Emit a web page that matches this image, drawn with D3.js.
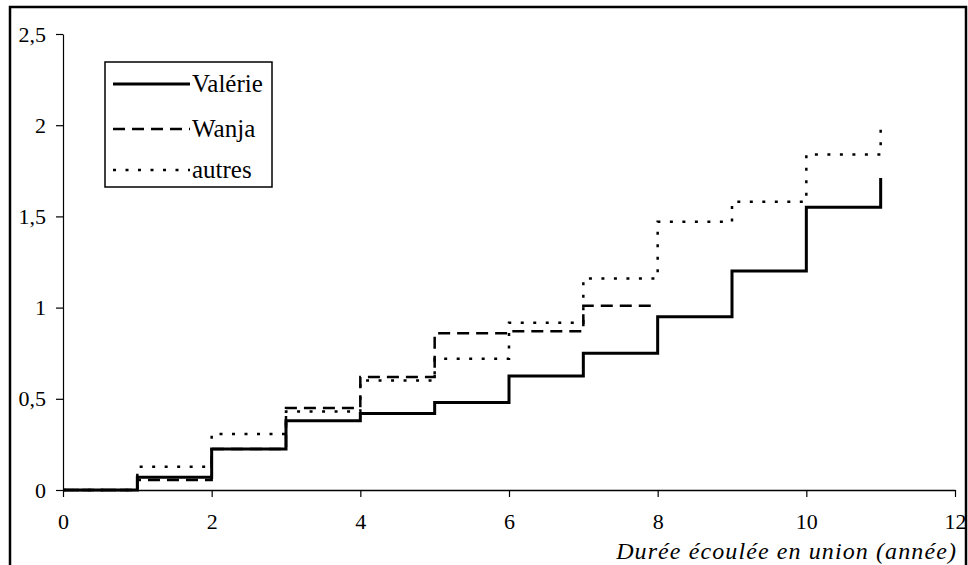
<!DOCTYPE html>
<html>
<head>
<meta charset="utf-8">
<script src="https://cdn.jsdelivr.net/npm/d3@7"></script>
<style>
  body { margin: 0; background: #fff; }
  svg { display: block; }
  svg text { font-family: "Liberation Serif", "DejaVu Serif", "Times New Roman", serif; fill: #000; }
</style>
</head>
<body>
<svg id="chart"></svg>
<script>
// years (step starts) and cumulative values
const years = [0, 1, 2, 3, 4, 5, 6, 7, 8, 9, 10, 11];
const valerie = [0, 0.07, 0.225, 0.38, 0.42, 0.48, 0.625, 0.75, 0.95, 1.20, 1.55, 1.71];
const wanja = [0, 0.055, 0.225, 0.45, 0.62, 0.86, 0.87, 1.01, 1.01];
const autres = [0, 0.128, 0.307, 0.43, 0.60, 0.72, 0.917, 1.16, 1.47, 1.58, 1.84, 1.98];

const seriesNames = ["Valérie", "Wanja", "autres"];
const seriesValues = [valerie, wanja, autres];
const seriesDash = [null, "12,7", "3,9.5"];
const seriesWidth = [3, 2.5, 2.5];

const xTicks = [0, 2, 4, 6, 8, 10, 12];
const yTicks = [0, 0.5, 1, 1.5, 2, 2.5];
const xTitle = "Durée écoulée en union (année)";

const svgWidth = 968, svgHeight = 565;
const serif = '"Liberation Serif", "DejaVu Serif", "Times New Roman", serif';

const svg = d3.select("#chart")
  .attr("width", svgWidth)
  .attr("height", svgHeight);

// frame around the picture
svg.append("path")
  .attr("d", "M10,565 L10,7 L966,7 L966,565")
  .attr("fill", "none")
  .attr("stroke", "#000")
  .attr("stroke-width", 2.5);

const x = d3.scaleLinear().domain([0, 12]).range([63, 955]);
const y = d3.scaleLinear().domain([0, 2.5]).range([490, 34]);

const locale = d3.formatLocale({ decimal: ",", thousands: " ", grouping: [3], currency: ["", " €"] });
const fmt = locale.format("~g");

// x axis
const gx = svg.append("g")
  .attr("transform", "translate(0," + y(0) + ")")
  .call(d3.axisBottom(x).tickValues(xTicks).tickFormat(fmt).tickSize(7).tickSizeOuter(0).tickPadding(16));
gx.attr("font-family", serif).attr("font-size", 22);
gx.select(".domain").attr("stroke-width", 1.5);
gx.selectAll(".tick line").attr("stroke-width", 1.2);

// y axis
const gy = svg.append("g")
  .attr("transform", "translate(" + x(0) + ",0)")
  .call(d3.axisLeft(y).tickValues(yTicks).tickFormat(fmt).tickSize(7).tickSizeOuter(0).tickPadding(10));
gy.attr("font-family", serif).attr("font-size", 22);
gy.select(".domain").attr("stroke-width", 1.2);
gy.selectAll(".tick line").attr("stroke-width", 1.2);

svg.append("text")
  .attr("x", 957)
  .attr("y", 559)
  .attr("text-anchor", "end")
  .attr("font-size", 24)
  .attr("letter-spacing", 1.1)
  .attr("font-style", "italic")
  .text(xTitle);

// step lines
const line = d3.line()
  .x(function (d) { return x(d.year) })
  .y(function (d) { return y(d.value) })
  .curve(d3.curveStepAfter);

// draw back to front: autres, Wanja, Valérie
[2, 1, 0].forEach(function (i) {
  const pts = seriesValues[i].map(function (v, k) { return { year: years[k], value: v }; });
  svg.append("path")
    .datum(pts)
    .attr("fill", "none")
    .attr("stroke", "#000")
    .attr("stroke-width", seriesWidth[i])
    .attr("stroke-dasharray", seriesDash[i])
    .attr("d", line);
});

// legend
const legend = svg.append("g");
legend.append("rect")
  .attr("x", 105).attr("y", 62)
  .attr("width", 167).attr("height", 125)
  .attr("fill", "#fff")
  .attr("stroke", "#000")
  .attr("stroke-width", 1.5);

const legendY = [84, 129, 170];
seriesNames.forEach(function (name, i) {
  legend.append("line")
    .attr("x1", 113).attr("x2", 190)
    .attr("y1", legendY[i]).attr("y2", legendY[i])
    .attr("stroke", "#000")
    .attr("stroke-width", seriesWidth[i])
    .attr("stroke-dasharray", seriesDash[i]);
  legend.append("text")
    .attr("x", 192)
    .attr("y", legendY[i] + 8)
    .attr("font-size", 25)
    .text(name);
});
</script>
</body>
</html>
